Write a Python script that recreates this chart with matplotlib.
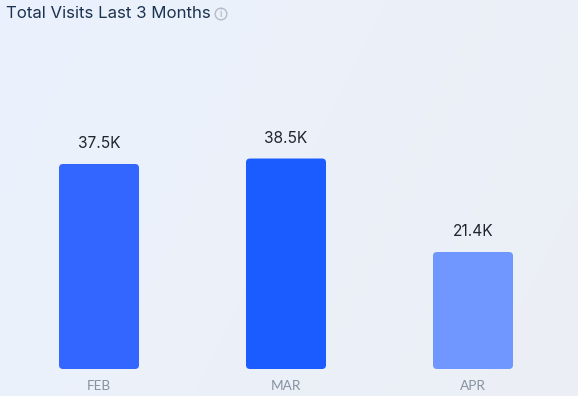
import numpy as np
import matplotlib
matplotlib.use("Agg")
import matplotlib.pyplot as plt
from matplotlib.patches import FancyBboxPatch, Circle

months = ["FEB", "MAR", "APR"]
visits = [37.5, 38.5, 21.4]
labels = ["37.5K", "38.5K", "21.4K"]
colors = ["#3366FF", "#1A5CFF", "#7096FF"]
title = "Total Visits Last 3 Months"

W, H = 578, 396
fig = plt.figure(figsize=(W / 100, H / 100), dpi=100)

# page background
bg = fig.add_axes([0, 0, 1, 1], zorder=0)
bg.set_axis_off()
gx = np.linspace(0, 1, 64)
gy = np.linspace(0, 1, 44)
X, Y = np.meshgrid(gx, gy)
t = np.clip(0.75 * X + 0.25 * Y, 0, 1)[..., None]
c0 = np.array([0xEB, 0xF2, 0xFD]) / 255
c1 = np.array([0xEC, 0xEF, 0xF5]) / 255
bg.imshow(c0 + (c1 - c0) * t, extent=[0, W, H, 0], aspect="auto", interpolation="bilinear")
bg.set_xlim(0, W)
bg.set_ylim(H, 0)
# info icon
bg.add_patch(Circle((221, 14), 5.8, fill=False, ec="#B4BCC8", lw=1))
bg.text(221, 14.3, "i", color="#A3ADBA", fontsize=7, ha="center", va="center", family="Inter")
bg.text(6, 13.5, title, color="#1B3350", fontsize=12.1, ha="left", va="center", family="Inter")

# chart area: baseline at y=369 px, scale 5.467 px per K, bar spacing 187 px
px_per_k = 5.467
bottom_px, top_px = 369, 100
ax = fig.add_axes([0, 1 - bottom_px / H, 1, (bottom_px - top_px) / H], zorder=1)
ax.patch.set_alpha(0)
ax.set_xlim(-99 / 187, (W - 99) / 187)
ax.set_ylim(0, (bottom_px - top_px) / px_per_k)
for s in ax.spines.values():
    s.set_visible(False)
ax.set_yticks([])
ax.set_xticks(range(len(months)))
ax.set_xticklabels(months, color="#87929E", fontsize=9.8, family="Lato")
ax.tick_params(axis="x", length=0, pad=8)

bar_w = 80 / 187
for i, (v, c, lab) in enumerate(zip(visits, colors, labels)):
    ax.add_patch(FancyBboxPatch(
        (i - bar_w / 2, 0), bar_w, v,
        boxstyle=f"round,pad=0,rounding_size={4 / 187}",
        mutation_aspect=187 / px_per_k, fc=c, ec="none"))
    ax.annotate(lab, (i, v), xytext=(0, 13), textcoords="offset pixels",
                ha="center", va="bottom", fontsize=11.2, color="#20242C", family="Inter")

fig.savefig("out.png", dpi=100)
